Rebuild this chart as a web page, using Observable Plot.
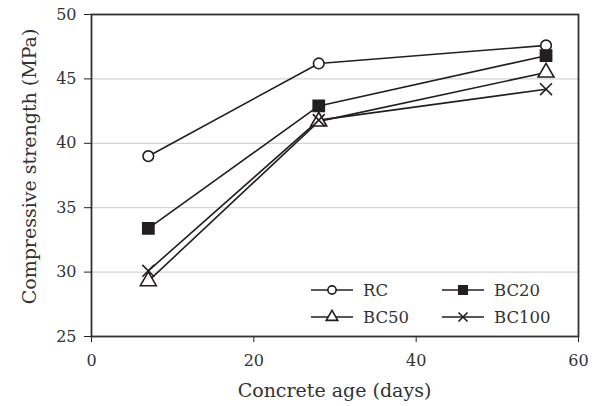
<!DOCTYPE html>
<html>
<head>
<meta charset="utf-8">
<script src="https://cdn.jsdelivr.net/npm/d3@7"></script>
<script src="https://cdn.jsdelivr.net/npm/@observablehq/plot@0.6"></script>
<style>
  html, body { margin: 0; padding: 0; background: #fff; }
  svg { display: block; }
</style>
</head>
<body>
<div id="chart"></div>
<script>
const ages = [7, 28, 56];
const seriesNames = ["RC", "BC20", "BC50", "BC100"];
const rcValues = [39.0, 46.2, 47.6];
const bc20Values = [33.4, 42.9, 46.8];
const bc50Values = [29.3, 41.7, 45.5];
const bc100Values = [30.1, 41.8, 44.2];
const xTicks = [0, 20, 40, 60];
const yTicks = [25, 30, 35, 40, 45, 50];
const gridTicks = [30, 35, 40, 45];

const seriesValues = [rcValues, bc20Values, bc50Values, bc100Values];
const symbols = ["circle", "square", "triangle", "times"];
const fills = ["white", "#231f20", "white", "none"];
const sizes = [5.3, 6.3, 5.9, 5.5];
const legendSizes = [4.1, 4.8, 4.3, 4.2];
const ink = "#231f20";

const rows = [];
seriesNames.forEach((s, i) => ages.forEach((a, j) => rows.push({series: s, age: a, value: seriesValues[i][j]})));

const font = "DejaVu Serif";
const marks = [
  Plot.gridY(gridTicks, {stroke: "#d4d4d4", strokeOpacity: 1, strokeWidth: 1.2}),
  Plot.axisX(xTicks, {tickSize: 6, tickPadding: 12, fontSize: 16, label: null, stroke: ink}),
  Plot.axisY(yTicks, {tickSize: 7, tickPadding: 8, fontSize: 16, label: null, stroke: ink}),
  Plot.frame({stroke: "#333", strokeWidth: 1.8})
];
seriesNames.forEach((s, i) => {
  const d = rows.filter(r => r.series === s);
  marks.push(Plot.line(d, {x: "age", y: "value", stroke: ink, strokeWidth: 1.6}));
});
seriesNames.forEach((s, i) => {
  const d = rows.filter(r => r.series === s);
  marks.push(Plot.dot(d, {x: "age", y: "value", symbol: () => symbols[i], r: sizes[i], fill: fills[i], stroke: ink, strokeWidth: 1.6}));
});

const chart = Plot.plot({
  width: 602,
  height: 406,
  marginLeft: 91,
  marginRight: 24,
  marginTop: 14,
  marginBottom: 70,
  style: {fontFamily: font, fontSize: "16px", color: "#333", background: "white"},
  x: {domain: [0, 60], label: null},
  y: {domain: [25, 50], label: null},
  symbol: {type: "identity"},
  marks
});

const svg = d3.select(chart);
// axis titles
svg.append("text")
  .attr("x", (91 + 578) / 2).attr("y", 397)
  .attr("text-anchor", "middle")
  .attr("font-family", font).attr("font-size", 19).attr("fill", "#333")
  .text("Concrete age (days)");
svg.append("text")
  .attr("transform", `translate(36, 166.5) rotate(-90)`)
  .attr("text-anchor", "middle")
  .attr("font-family", font).attr("font-size", 19).attr("fill", "#333")
  .text("Compressive strength (MPa)");

// legend
const legendPos = [[311, 290], [442, 290], [311, 317], [442, 317]];
const symGen = {circle: d3.symbolCircle, square: d3.symbolSquare, triangle: d3.symbolTriangle, times: d3.symbolTimes};
seriesNames.forEach((s, i) => {
  const [lx, ly] = legendPos[i];
  const g = svg.append("g");
  g.append("line").attr("x1", lx).attr("x2", lx + 42).attr("y1", ly).attr("y2", ly)
    .attr("stroke", ink).attr("stroke-width", 1.6);
  const r = legendSizes[i];
  g.append("path")
    .attr("d", d3.symbol(symGen[symbols[i]], Math.PI * r * r)())
    .attr("transform", `translate(${lx + 21},${ly})`)
    .attr("fill", fills[i]).attr("stroke", ink).attr("stroke-width", 1.6);
  g.append("text").attr("x", lx + 52).attr("y", ly).attr("dy", "0.35em")
    .attr("text-anchor", "start")
    .attr("font-family", font).attr("font-size", 16.5).attr("fill", "#333")
    .text(s);
});

document.getElementById("chart").appendChild(chart);
</script>
</body>
</html>
